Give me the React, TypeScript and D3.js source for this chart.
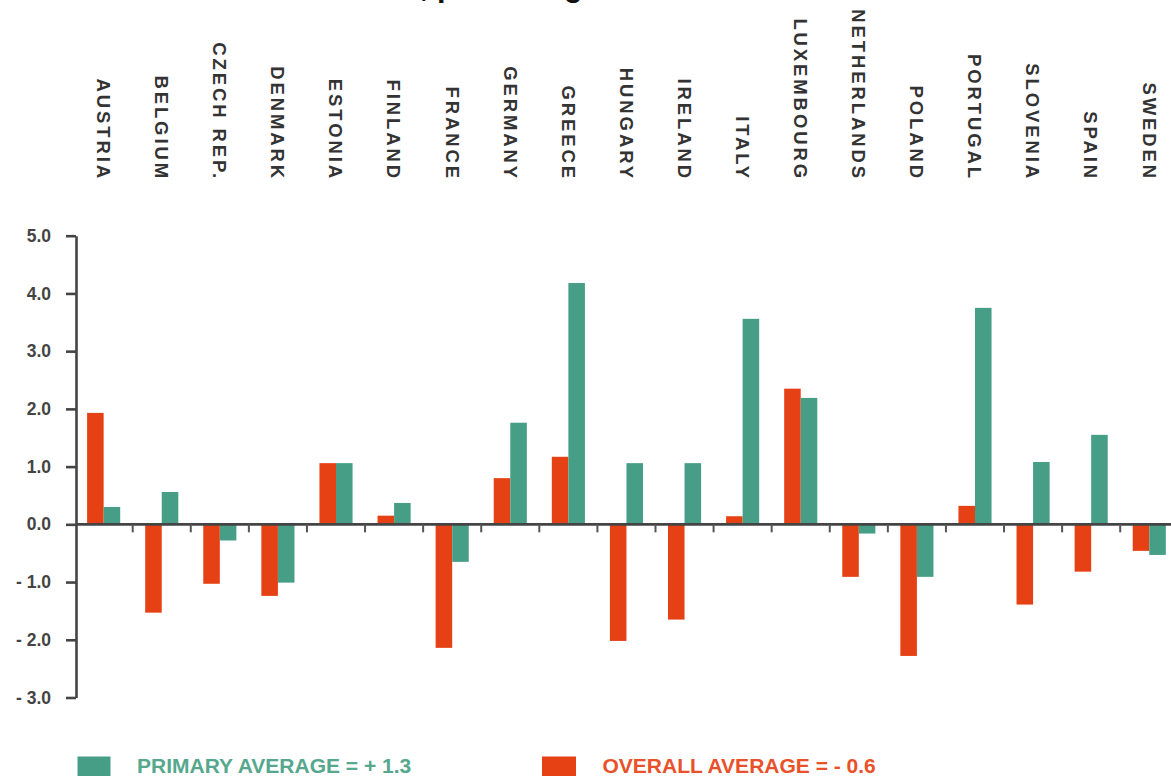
import React, { FC, useEffect, useRef, useMemo } from 'react'
import * as d3 from 'd3'

const countries = [
	'AUSTRIA', 'BELGIUM', 'CZECH REP.', 'DENMARK', 'ESTONIA', 'FINLAND', 'FRANCE',
	'GERMANY', 'GREECE', 'HUNGARY', 'IRELAND', 'ITALY', 'LUXEMBOURG', 'NETHERLANDS',
	'POLAND', 'PORTUGAL', 'SLOVENIA', 'SPAIN', 'SWEDEN'
]
// orange series
const overall = [
	1.93, -1.53, -1.03, -1.24, 1.06, 0.15, -2.14, 0.8, 1.17, -2.02, -1.65, 0.14, 2.35,
	-0.91, -2.28, 0.32, -1.39, -0.82, -0.46
]
// green series
const primary = [
	0.3, 0.56, -0.28, -1.01, 1.06, 0.37, -0.65, 1.76, 4.18, 1.06, 1.06, 3.56, 2.19,
	-0.16, -0.91, 3.75, 1.08, 1.55, -0.53
]
const yTicks = [5, 4, 3, 2, 1, 0, -1, -2, -3]
const yTickLabels = ['5.0', '4.0', '3.0', '2.0', '1.0', '0.0', '- 1.0', '- 2.0', '- 3.0']
const seriesKeys = ['overall', 'primary']
const legendLabels = ['PRIMARY AVERAGE = + 1.3', 'OVERALL AVERAGE = - 0.6']
const titleFragment = ', percentage'

const ORANGE = '#e64114'
const GREEN = '#469e87'
const AXIS = '#444'
const FONT = '"Liberation Sans", Arial, Helvetica, sans-serif'

const App: FC = () => {
	const width = 1171
	const height = 776
	const axisX = 76
	const yAxis = useRef<SVGGElement>(null)

	const yScale = useMemo(() => {
		return d3.scaleLinear().domain([-3, 5]).range([697.5, 235.7])
	}, [])

	const xScale = useMemo(() => {
		return d3.scaleBand().domain(countries).range([74.6, 1178.3])
	}, [])

	const innerScale = useMemo(() => {
		return d3.scaleBand().domain(seriesKeys).range([12.5, 45.6])
	}, [])

	useEffect(() => {
		if (yAxis.current) {
			const axis = d3
				.axisLeft(yScale)
				.tickValues(yTicks)
				.tickSize(10)
				.tickSizeOuter(0)
				.tickPadding(15)
				.tickFormat((d) => yTickLabels[yTicks.indexOf(+d)])
			const g = d3.select(yAxis.current).call(axis)
			g.select('.domain').attr('stroke', AXIS).attr('stroke-width', 2.6)
			g.selectAll('.tick line').attr('stroke', AXIS).attr('stroke-width', 2.6)
			g.selectAll('.tick text')
				.attr('fill', AXIS)
				.attr('font-family', FONT)
				.attr('font-weight', 'bold')
				.attr('font-size', 17.5)
		}
	}, [])

	const y0 = yScale(0)
	const rows = countries.map((c, i) => ({ c, overall: overall[i], primary: primary[i] }))

	return (
		<svg
			width={width}
			height={height}
			style={{ position: 'absolute', left: 0, top: 0, background: '#fff' }}
		>
			{/* title, cut off at the top edge */}
			<text
				x={420}
				y={-4.5}
				fontFamily={FONT}
				fontWeight="bold"
				fontSize={30.5}
				fill="#111"
			>
				{titleFragment}
			</text>

			{/* category labels */}
			<g>
				{countries.map((c) => (
					<text
						key={c}
						transform={`translate(${(xScale(c) as number) + xScale.bandwidth() / 2}, 181) rotate(90)`}
						textAnchor="end"
						dy="0.36em"
						fontFamily={FONT}
						fontWeight="bold"
						fontSize={18.5}
						letterSpacing={2.9}
						fill="#333"
					>
						{c}
					</text>
				))}
			</g>

			{/* bars */}
			<g>
				{rows.map((r) =>
					seriesKeys.map((k) => {
						const v = (r as any)[k] as number
						const x = (xScale(r.c) as number) + (innerScale(k) as number)
						return (
							<rect
								key={r.c + k}
								x={x}
								y={Math.min(yScale(v), y0)}
								width={innerScale.bandwidth()}
								height={Math.abs(yScale(v) - y0)}
								fill={k === 'overall' ? ORANGE : GREEN}
							/>
						)
					})
				)}
			</g>

			{/* x axis */}
			<g>
				<line x1={axisX} x2={width} y1={y0} y2={y0} stroke={AXIS} strokeWidth={2.6} />
				{countries.slice(1).map((c) => (
					<line
						key={c}
						x1={xScale(c) as number}
						x2={xScale(c) as number}
						y1={y0}
						y2={y0 + 8}
						stroke="#555"
						strokeWidth={2}
					/>
				))}
			</g>

			<g ref={yAxis} transform={`translate(${axisX}, 0)`}></g>

			{/* legend */}
			<g fontFamily={FONT} fontWeight="bold" fontSize={21}>
				<rect x={77.5} y={756.5} width={33} height={20} fill={GREEN} />
				<text x={137} y={773} fill="#55a78d">
					{legendLabels[0]}
				</text>
				<rect x={542} y={756.5} width={34} height={20} fill={ORANGE} />
				<text x={602.5} y={773} fill="#e9512a">
					{legendLabels[1]}
				</text>
			</g>
		</svg>
	)
}

export default App
